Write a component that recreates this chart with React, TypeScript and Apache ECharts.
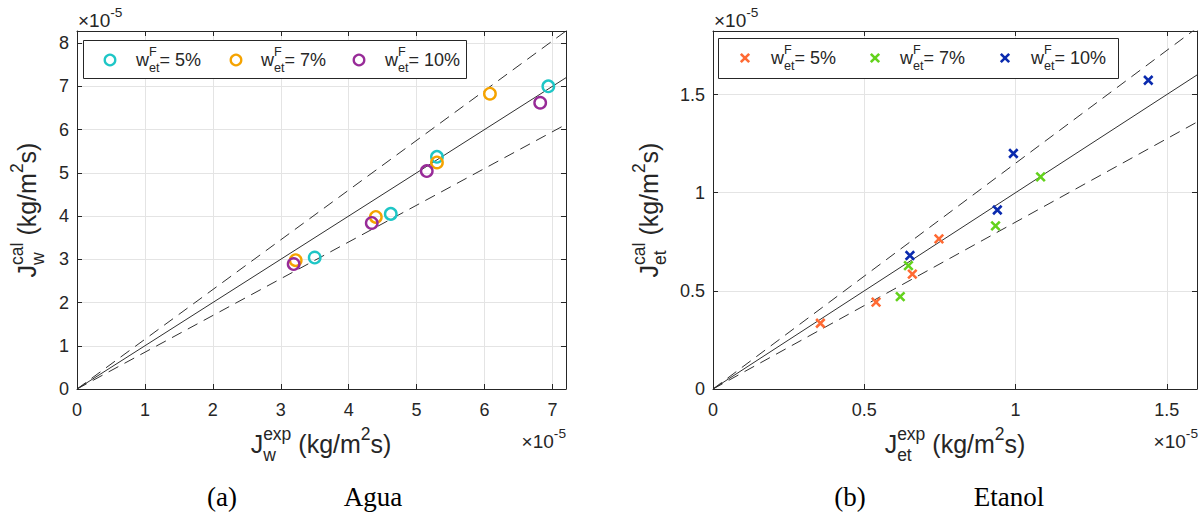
import React, { useEffect, useRef } from 'react';
import * as echarts from 'echarts';

const SANS = '"Liberation Sans", Arial, Helvetica, sans-serif';
const SERIF = '"Liberation Serif", "DejaVu Serif", serif';
const INK = '#262626';
const GRID = '#e4e4e4';

// ---- Data (values in units of 1e-5 kg/m2s) ----
const seriesLabels = ['5%', '7%', '10%'];

const aguaExp5 = [3.5, 4.62, 5.3, 6.94];
const aguaCal5 = [3.04, 4.05, 5.37, 7.0];
const aguaExp7 = [3.22, 4.4, 5.3, 6.08];
const aguaCal7 = [2.98, 3.98, 5.24, 6.83];
const aguaExp10 = [3.19, 4.34, 5.15, 6.82];
const aguaCal10 = [2.89, 3.84, 5.04, 6.62];

const etExp5 = [0.355, 0.539, 0.659, 0.747];
const etCal5 = [0.335, 0.443, 0.585, 0.765];
const etExp7 = [0.619, 0.646, 0.934, 1.083];
const etCal7 = [0.471, 0.629, 0.831, 1.081];
const etExp10 = [0.651, 0.94, 0.993, 1.439];
const etCal10 = [0.68, 0.912, 1.2, 1.573];

const parityFactors = [1, 1.15, 0.85];

const aguaXMax = 7.2;
const aguaYMax = 8.28;
const aguaInterval = 1;
const etXMax = 1.6;
const etYMax = 1.824;
const etInterval = 0.5;

const aguaColors = ['#1ec6c6', '#f5a300', '#982b98'];
const etColors = ['#ff6a33', '#63d21c', '#0a2aae'];

const zip = (a: number[], b: number[]) => a.map((v, i) => [v, b[i]]);

let mctx: CanvasRenderingContext2D | null = null;
function textWidth(t: string, size: number, family: string) {
  if (!mctx) mctx = document.createElement('canvas').getContext('2d');
  mctx!.font = `${size}px ${family}`;
  return mctx!.measureText(t).width;
}

type Seg = { t?: string; sup?: string; sub?: string };
function richText(
  segs: Seg[],
  size: number,
  x: number,
  y: number,
  align: 'left' | 'center' | 'right',
  rotation = 0,
  family = SANS,
  fill = INK,
  smallRatio = 0.7
) {
  const small = size * smallRatio;
  const pieces: { text: string; x: number; y: number; size: number }[] = [];
  let cx = 0;
  segs.forEach((s) => {
    if (s.t !== undefined) {
      pieces.push({ text: s.t, x: cx, y: 0, size });
      cx += textWidth(s.t, size, family);
    } else {
      let w = 0;
      if (s.sup) {
        pieces.push({ text: s.sup, x: cx, y: -0.42 * size, size: small });
        w = Math.max(w, textWidth(s.sup, small, family));
      }
      if (s.sub) {
        pieces.push({ text: s.sub, x: cx, y: 0.42 * size, size: small });
        w = Math.max(w, textWidth(s.sub, small, family));
      }
      cx += w;
    }
  });
  const off = align === 'center' ? -cx / 2 : align === 'right' ? -cx : 0;
  return {
    type: 'group',
    x,
    y,
    rotation,
    silent: true,
    children: pieces.map((p) => ({
      type: 'text',
      x: p.x + off,
      y: p.y,
      z: 100,
      silent: true,
      style: {
        text: p.text,
        fontSize: p.size,
        fontFamily: family,
        fill,
        textAlign: 'left',
        textVerticalAlign: 'middle',
      },
    })),
  };
}

function legendBlock(
  box: { x: number; y: number; w: number; h: number },
  markerXs: number[],
  textXs: number[],
  cy: number,
  colors: string[],
  kind: 'circle' | 'cross'
) {
  const els: any[] = [
    {
      type: 'rect',
      shape: { x: box.x + 0.5, y: box.y + 0.5, width: box.w, height: box.h },
      style: { fill: '#ffffff', stroke: INK, lineWidth: 1 },
      z: 90,
      silent: true,
    },
  ];
  colors.forEach((c, i) => {
    const mx = markerXs[i];
    if (kind === 'circle') {
      els.push({
        type: 'circle',
        shape: { cx: mx, cy, r: 5.3 },
        style: { fill: 'none', stroke: c, lineWidth: 2.3 },
        z: 100,
        silent: true,
      });
    } else {
      const d = 4.2;
      els.push({
        type: 'line',
        shape: { x1: mx - d, y1: cy - d, x2: mx + d, y2: cy + d },
        style: { stroke: c, lineWidth: 2.6 },
        z: 100,
        silent: true,
      });
      els.push({
        type: 'line',
        shape: { x1: mx - d, y1: cy + d, x2: mx + d, y2: cy - d },
        style: { stroke: c, lineWidth: 2.6 },
        z: 100,
        silent: true,
      });
    }
    els.push(
      richText([{ t: 'w' }, { sup: 'F', sub: 'et' }, { t: '= ' + seriesLabels[i] }], 18, textXs[i], cy, 'left')
    );
  });
  return els;
}

function fmt(interval: number) {
  return (v: number) => {
    const k = v / interval;
    if (Math.abs(k - Math.round(k)) > 1e-6) return '';
    return String(+v.toFixed(3));
  };
}

function axisPairX(gridIndex: number, max: number, interval: number) {
  const base = {
    type: 'value',
    gridIndex,
    min: 0,
    max,
    interval,
    axisLine: { show: true, onZero: false, lineStyle: { color: INK, width: 1 } },
    axisTick: { show: true, inside: true, length: 5, lineStyle: { color: INK } },
  };
  return [
    {
      ...base,
      position: 'bottom',
      axisLabel: { show: true, color: INK, fontSize: 18, fontFamily: SANS, margin: 12, formatter: fmt(interval) },
      splitLine: { show: true, lineStyle: { color: GRID, width: 1 } },
    },
    {
      ...base,
      position: 'top',
      axisLabel: { show: false },
      splitLine: { show: false },
    },
  ];
}

function axisPairY(gridIndex: number, max: number, interval: number) {
  const base = {
    type: 'value',
    gridIndex,
    min: 0,
    max,
    interval,
    axisLine: { show: true, onZero: false, lineStyle: { color: INK, width: 1 } },
    axisTick: { show: true, inside: true, length: 5, lineStyle: { color: INK } },
  };
  return [
    {
      ...base,
      position: 'left',
      axisLabel: { show: true, color: INK, fontSize: 18, fontFamily: SANS, margin: 8, formatter: fmt(interval) },
      splitLine: { show: true, lineStyle: { color: GRID, width: 1 } },
    },
    {
      ...base,
      position: 'right',
      axisLabel: { show: false },
      splitLine: { show: false },
    },
  ];
}

function parityLines(axisIndex: number, xmax: number) {
  return parityFactors.map((f, i) => ({
    type: 'line',
    xAxisIndex: axisIndex,
    yAxisIndex: axisIndex,
    data: [
      [0, 0],
      [xmax, f * xmax],
    ],
    showSymbol: false,
    symbol: 'none',
    silent: true,
    clip: true,
    z: 3,
    lineStyle: { color: '#303030', width: 1, type: i === 0 ? 'solid' : [11, 7] },
  }));
}

const CROSS = 'path://M0,0L10,10M10,0L0,10';

export default function App() {
  const ref = useRef<HTMLDivElement>(null);

  useEffect(() => {
    document.body.style.margin = '0';
    if (!ref.current) return;
    const chart = echarts.init(ref.current, undefined, { renderer: 'svg' });

    const aguaData = [zip(aguaExp5, aguaCal5), zip(aguaExp7, aguaCal7), zip(aguaExp10, aguaCal10)];
    const etData = [zip(etExp5, etCal5), zip(etExp7, etCal7), zip(etExp10, etCal10)];

    const aguaScatter = aguaData.map((d, i) => ({
      type: 'scatter',
      name: 'agua ' + seriesLabels[i],
      xAxisIndex: 0,
      yAxisIndex: 0,
      data: d,
      symbol: 'circle',
      symbolSize: 11.5,
      z: 5,
      itemStyle: { color: 'rgba(0,0,0,0)', borderColor: aguaColors[i], borderWidth: 2.4, opacity: 1 },
    }));
    const etScatter = etData.map((d, i) => ({
      type: 'scatter',
      name: 'etanol ' + seriesLabels[i],
      xAxisIndex: 2,
      yAxisIndex: 2,
      data: d,
      symbol: CROSS,
      symbolSize: 8.5,
      z: 5,
      itemStyle: { color: etColors[i], borderColor: etColors[i], borderWidth: 2.6, opacity: 1 },
    }));

    const graphics: any[] = [
      // y-axis titles
      richText([{ t: 'J' }, { sup: 'cal', sub: 'w' }, { t: ' (kg/m' }, { sup: '2' }, { t: 's)' }], 25, 27, 210, 'center', Math.PI / 2),
      richText([{ t: 'J' }, { sup: 'cal', sub: 'et' }, { t: ' (kg/m' }, { sup: '2' }, { t: 's)' }], 25, 649, 210, 'center', Math.PI / 2),
      // x-axis titles
      richText([{ t: 'J' }, { sup: 'exp', sub: 'w' }, { t: ' (kg/m' }, { sup: '2' }, { t: 's)' }], 25, 321, 444, 'center'),
      richText([{ t: 'J' }, { sup: 'exp', sub: 'et' }, { t: ' (kg/m' }, { sup: '2' }, { t: 's)' }], 25, 955, 444, 'center'),
      // exponent labels
      richText([{ t: '×10' }, { sup: '-5' }], 19, 78, 20, 'left', 0, SANS, INK, 0.72),
      richText([{ t: '×10' }, { sup: '-5' }], 19, 566, 441, 'right', 0, SANS, INK, 0.72),
      richText([{ t: '×10' }, { sup: '-5' }], 19, 714, 20, 'left', 0, SANS, INK, 0.72),
      richText([{ t: '×10' }, { sup: '-5' }], 19, 1198, 441, 'right', 0, SANS, INK, 0.72),
      // captions
      richText([{ t: '(a)' }], 27, 222, 497, 'center', 0, SERIF, '#000'),
      richText([{ t: 'Agua' }], 27, 373, 497, 'center', 0, SERIF, '#000'),
      richText([{ t: '(b)' }], 27, 850, 497, 'center', 0, SERIF, '#000'),
      richText([{ t: 'Etanol' }], 27, 1009, 497, 'center', 0, SERIF, '#000'),
      // legends
      ...legendBlock({ x: 83, y: 40, w: 383, h: 38 }, [110, 236, 359], [136, 261, 385], 60, aguaColors, 'circle'),
      ...legendBlock({ x: 718, y: 38, w: 400, h: 40 }, [745, 875, 1005], [771, 900, 1031], 58, etColors, 'cross'),
    ];

    chart.setOption({
      animation: false,
      backgroundColor: '#ffffff',
      grid: [
        { left: 77, top: 31, width: 489, height: 358, show: false, containLabel: false, outerBoundsMode: 'none' },
        { left: 713, top: 31, width: 484, height: 358, show: false, containLabel: false, outerBoundsMode: 'none' },
      ],
      xAxis: [...axisPairX(0, aguaXMax, aguaInterval), ...axisPairX(1, etXMax, etInterval)],
      yAxis: [...axisPairY(0, aguaYMax, aguaInterval), ...axisPairY(1, etYMax, etInterval)],
      series: [...parityLines(0, aguaXMax), ...parityLines(2, etXMax), ...aguaScatter, ...etScatter],
      graphic: graphics,
    });

    return () => chart.dispose();
  }, []);

  return <div ref={ref} style={{ width: 1204, height: 525, background: '#fff' }} />;
}
